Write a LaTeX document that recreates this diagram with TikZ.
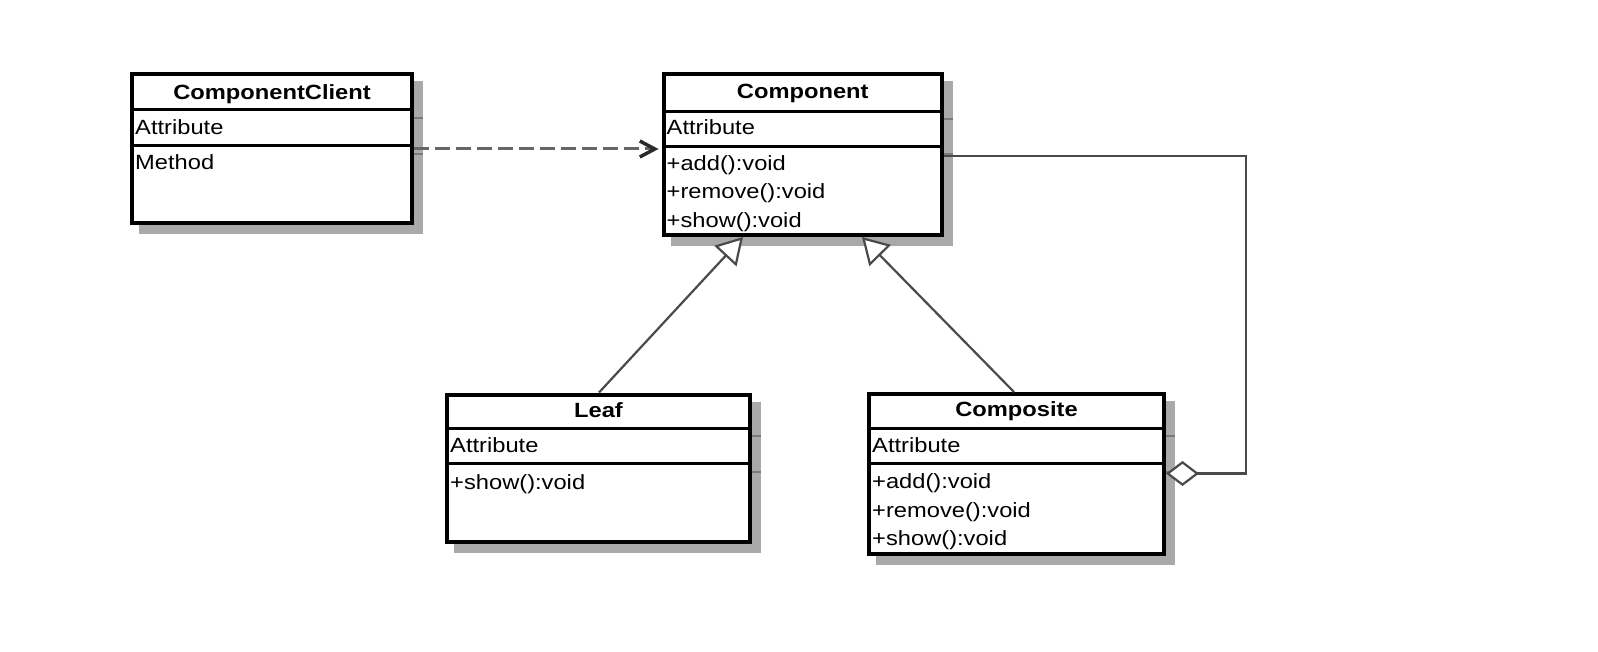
\documentclass[tikz,border=0pt]{standalone}
\usepackage{fontspec}
\setmainfont{Liberation Sans}
\usetikzlibrary{arrows.meta,backgrounds,calc}
\definecolor{shadowc}{HTML}{A9A9A9}
\definecolor{tickc}{HTML}{7A7A7A}
\definecolor{linec}{HTML}{4A4A4A}
\definecolor{dashc}{HTML}{666666}
\definecolor{barbc}{HTML}{2A2A2A}
\begin{document}
\begin{tikzpicture}[x=1pt,y=-1pt,
  classbox/.style={draw=black, line width=4pt, fill=white, rectangle, inner sep=0pt, outer sep=2pt, anchor=north west},
  sepline/.style={line width=3pt, black},
  shadowtick/.style={line width=2pt, tickc},
  txt/.style={inner sep=0pt, font=\fontsize{20.6}{24}\selectfont, xscale=1.15},
  member/.style={txt, anchor=base west},
  classtitle/.style={txt, anchor=base, font=\fontsize{20.6}{24}\selectfont\bfseries},
  conn/.style={line width=2.2pt, linec},
  dep/.style={line width=3pt, dashc, dash pattern=on 15pt off 6pt, -{Straight Barb[length=15pt,width=16pt,line width=3.5pt,color=barbc]}},
  gen/.style={conn, -{Triangle[length=26pt,width=30pt,fill=white]}},
  agg/.style={conn, -{Diamond[length=33pt,width=25pt,fill=white]}},
]
\useasboundingbox (0,0) rectangle (1598,652);

% class boxes
\node[classbox, minimum width=280pt, minimum height=149pt] (cc) at (130,72) {};
\node[classbox, minimum width=278.5pt, minimum height=161pt] (comp) at (661.5,72) {};
\node[classbox, minimum width=303pt, minimum height=147.5pt] (leaf) at (445,392.5) {};
\node[classbox, minimum width=295pt, minimum height=160pt] (compo) at (867,392) {};

% shadows
\begin{scope}[on background layer]
  \foreach \b in {cc,comp,leaf,compo}{
    \fill[shadowc] ([shift={(9pt,-9pt)}]\b.north west) rectangle ([shift={(9pt,-9pt)}]\b.south east);
  }
  \draw[shadowtick] (414,118) -- (423,118);
  \draw[shadowtick] (414,154) -- (423,154);
  \draw[shadowtick] (944,119.5) -- (953,119.5);
  \draw[shadowtick] (944,154.5) -- (953,154.5);
  \draw[shadowtick] (752,436) -- (761,436);
  \draw[shadowtick] (752,471.5) -- (761,471.5);
  \draw[shadowtick] (1166,436) -- (1175,436);
  \draw[shadowtick] (1166,471.5) -- (1175,471.5);
\end{scope}

% compartment separators
\draw[sepline] (132,110) -- (412,110);
\draw[sepline] (132,146) -- (412,146);
\draw[sepline] (663.5,111.5) -- (942,111.5);
\draw[sepline] (663.5,146.5) -- (942,146.5);
\draw[sepline] (447,428) -- (750,428);
\draw[sepline] (447,463.5) -- (750,463.5);
\draw[sepline] (869,428) -- (1164,428);
\draw[sepline] (869,463.5) -- (1164,463.5);

% texts
\node[classtitle] (cc-n) at (272,99.5) {ComponentClient};
\node[member] (cc-a) at (135,135) {Attribute};
\node[member] (cc-m) at (135,170) {Method};

\node[classtitle] (comp-n) at (802.75,99) {Component};
\node[member] (comp-a) at (666.5,135) {Attribute};
\node[member] (comp-m1) at (666.5,170.5) {+add():void};
\node[member] (comp-m2) at (666.5,199) {+remove():void};
\node[member] (comp-m3) at (666.5,227.5) {+show():void};

\node[classtitle] (leaf-n) at (598.5,417) {Leaf};
\node[member] (leaf-a) at (450,452.5) {Attribute};
\node[member] (leaf-m1) at (450,489) {+show():void};

\node[classtitle] (compo-n) at (1016.5,416.5) {Composite};
\node[member] (compo-a) at (872,452.5) {Attribute};
\node[member] (compo-m1) at (872,488.5) {+add():void};
\node[member] (compo-m2) at (872,517) {+remove():void};
\node[member] (compo-m3) at (872,545.5) {+show():void};

% connectors
\coordinate (depy) at (0,149);
\draw[dep] (cc.east |- depy) -- ([xshift=-3pt]comp.west |- depy);
\draw[gen] ([xshift=154pt]leaf.north west) -- ([xshift=81.5pt]comp.south west);
\draw[gen] ([xshift=147pt]compo.north west) -- ([xshift=200.5pt]comp.south west);
\coordinate (aggya) at (0,156);
\coordinate (aggx) at (1246,0);
\coordinate (aggyb) at (0,473.5);
\draw[agg] (comp.east |- aggya) -| (aggx |- aggyb) -- (compo.east |- aggyb);
\end{tikzpicture}
\end{document}
